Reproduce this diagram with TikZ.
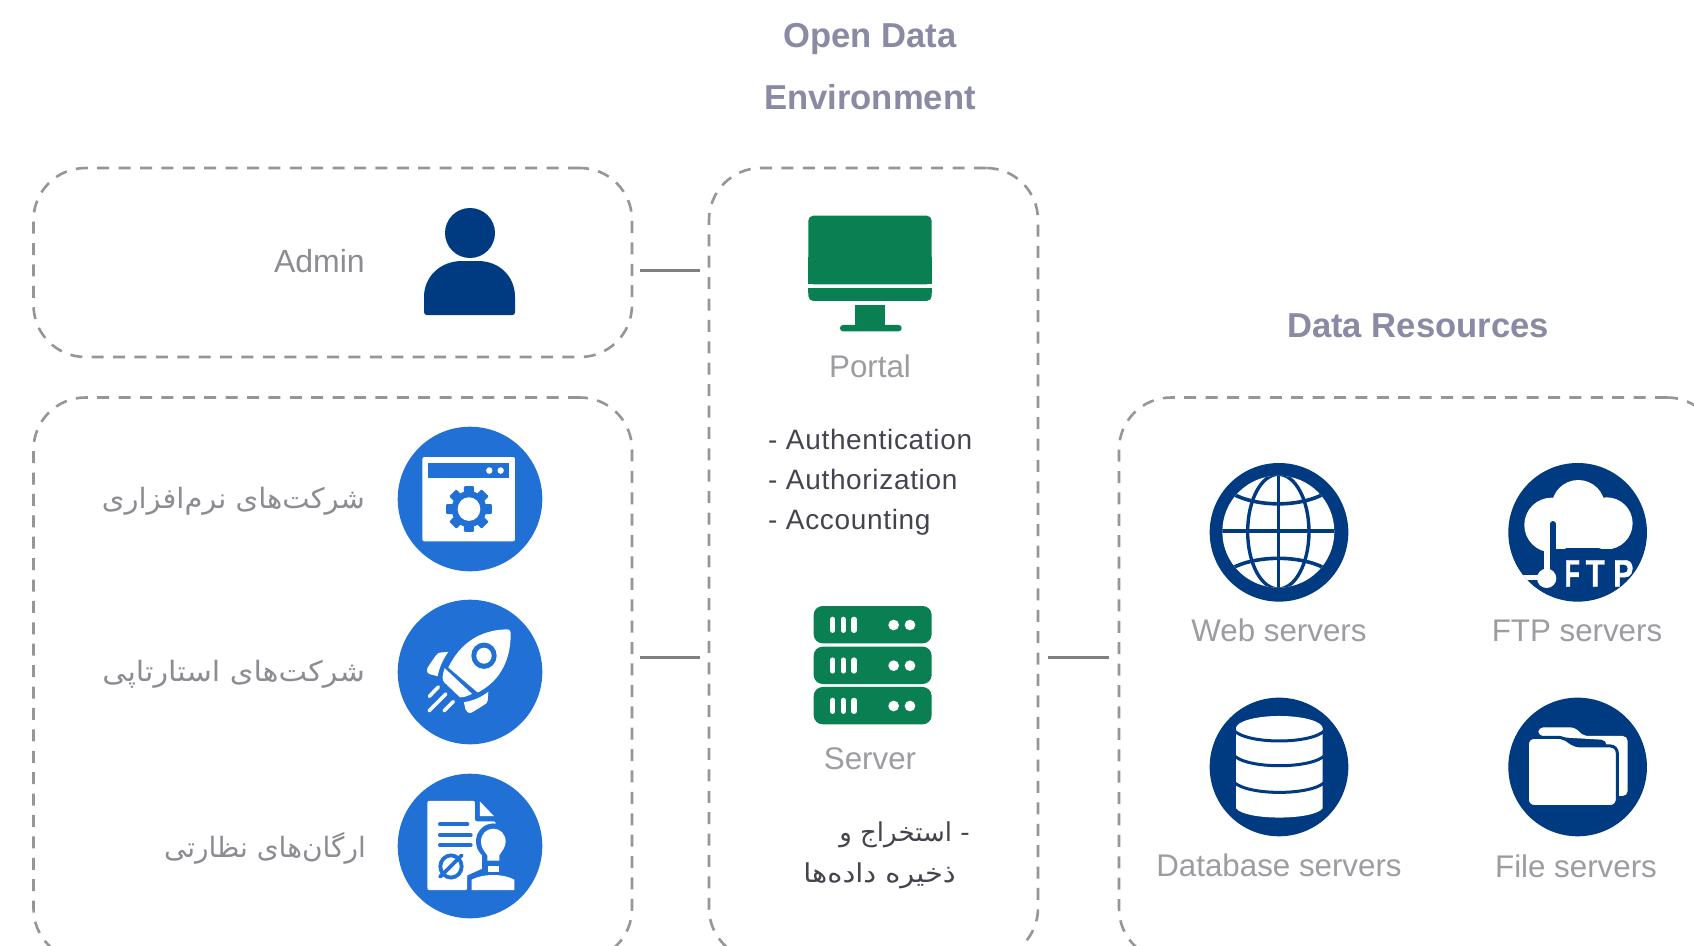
\documentclass[tikz,border=0pt]{standalone}
\usepackage{fontspec}
\setmainfont{Liberation Sans}
\newfontfamily\arabicfont[Script=Arabic]{DejaVu Sans}
\newfontfamily\listfont[LetterSpace=2.4]{Liberation Sans}
\newfontfamily\ftpfont[FakeBold=1.2]{Liberation Sans Bold}
\TeXXeTstate=1
\definecolor{navy}{HTML}{003A80}
\definecolor{bluec}{HTML}{2170D6}
\definecolor{greenc}{HTML}{0A8052}
\definecolor{titlec}{HTML}{8A8AA5}
\definecolor{labelc}{HTML}{9C9CA1}
\definecolor{arlabel}{HTML}{8C8C92}
\definecolor{darkt}{HTML}{44444E}
\definecolor{dashc}{HTML}{969696}
\definecolor{connc}{HTML}{808080}
\tikzset{
  group/.style={draw=dashc,line width=2.6pt,dash pattern=on 12pt off 9.4pt,rounded corners=52pt,inner sep=0pt,fill=none},
  conn/.style={draw=connc,line width=3pt,shorten <=7pt,shorten >=8pt},
  title/.style={font=\bfseries\fontsize{34.6}{40}\selectfont,text=titlec,inner sep=0pt},
  lab/.style={font=\fontsize{31.3}{36}\selectfont,text=labelc,inner sep=0pt},
  arlab/.style={font=\arabicfont\fontsize{28}{34}\selectfont,text=arlabel,inner sep=0pt,anchor=east},
  listt/.style={font=\listfont\fontsize{28}{34}\selectfont,text=darkt,inner sep=0pt,anchor=base west},
  arlist/.style={font=\arabicfont\fontsize{26}{34}\selectfont,text=darkt,inner sep=0pt,anchor=east},
  wl/.style={draw=white,line cap=round},
  zoomed/.style={x=.3333pt,y=-.3333pt},
  zoomedb/.style={x=.3333pt,y=-.347pt},
  ftpl/.style={font=\ftpfont\fontsize{38}{38}\selectfont,text=white,inner sep=0pt},
}
\begin{document}
\begin{tikzpicture}[x=1pt,y=-1pt]
\useasboundingbox (0,0) rectangle (1694,945);
\fill[white] (0,0) rectangle (1694,945);
\clip (0,0) rectangle (1694,945);

% titles
\node[title] (t1) at (870,39) {Open Data};
\node[title] (t2) at (870,97) {Environment};
\node[title] (t3) at (1418,326) {Data Resources};

% groups
\node[group,minimum width=598.5pt,minimum height=189pt] (admin) at (332.75,262.5) {};
\node[group,minimum width=598.5pt,minimum height=563pt] (orgs) at (332.75,679) {};
\node[group,minimum width=329pt,minimum height=792pt] (mid) at (873.5,564) {};
\node[group,minimum width=600pt,minimum height=563pt] (res) at (1419,679) {};

% connectors
\draw[conn] (admin.east |- 0,270) -- (mid.west |- 0,270);
\draw[conn] (orgs.east |- 0,657) -- (mid.west |- 0,657);
\draw[conn,shorten <=9pt,shorten >=9pt] (mid.east |- 0,657) -- (res.west |- 0,657);

% labels left
\node[lab,anchor=east,text=arlabel,font=\fontsize{32}{36}\selectfont] (ladmin) at (365,261) {Admin};
\node[arlab] (l1) at (365,501) {\scalebox{1.034}[1]{\beginR شرکت‌های نرم‌افزاری\endR}};
\node[arlab] (l2) at (365,674) {\scalebox{1.08}[1]{\beginR شرکت‌های استارتاپی\endR}};
\node[arlab] (l3) at (366,848) {\beginR ارگان‌های نظارتی\endR};

% person
\fill[navy] (470,233) circle (25);
\path[fill=navy] (424,312) -- (424,297) .. controls (424,276) and (441,261) .. (462,261) -- (478,261) .. controls (499,261) and (515,276) .. (515,297) -- (515,312) .. controls (515,314) and (514,315) .. (512,315) -- (427,315) .. controls (425,315) and (424,314) .. (424,312) -- cycle;

% left circles
\foreach \cy in {499,672,846} \fill[bluec] (470,\cy) circle (72.3);

% browser icon
\begin{scope}[shift={(380,400.8)},zoomedb]
  \fill[white,rounded corners=2pt] (127,162) rectangle (405,405);
  \fill[bluec] (145,180) rectangle (388,222);
  \fill[white] (328,201) circle (9.5) (362,201) circle (9.5);
  \foreach \a in {0,45,...,315}
    \fill[bluec,rotate around={\a:(267,312)},rounded corners=1pt] (252,246) rectangle (282,290);
  \fill[bluec] (267,312) circle (52);
  \fill[white] (267,312) circle (34);
\end{scope}

% rocket icon
\begin{scope}[shift={(380,400.3)},zoomedb]
  \fill[white] (205,770) .. controls (240,700) and (300,662) .. (380,660) .. controls (390,660) and (392,665) .. (392,675) .. controls (392,760) and (350,815) .. (293,842) -- cycle;
  \fill[bluec] (312,736) circle (38);
  \fill[white] (312,736) circle (23);
  \fill[white] (194,772) -- (276,846) .. controls (262,853) and (250,856) .. (240,856) -- (192,812) .. controls (186,805) and (186,795) .. (194,772) -- cycle;
  \fill[white] (205,725) -- (180,727) .. controls (172,728) and (168,734) .. (143,770) .. controls (138,780) and (142,788) .. (152,790) -- (173,795) .. controls (178,770) and (188,748) .. (205,725) -- cycle;
  \fill[white] (325,840) -- (323,866) .. controls (322,872) and (318,875) .. (312,878) -- (275,900) .. controls (265,903) and (258,897) .. (256,890) -- (252,870) .. controls (280,866) and (305,855) .. (325,840) -- cycle;
  \draw[wl,line width=3.5pt] (148,853) -- (175,826);
  \draw[wl,line width=3.5pt] (147,895) -- (198,846);
  \draw[wl,line width=3.5pt] (192,895) -- (220,868);
\end{scope}

% stamp icon
\begin{scope}[shift={(380,400.8)},zoomedb]
  \fill[white,rounded corners=2pt] (142,1153) -- (285,1153) -- (285,1212) -- (347,1212) -- (347,1330) -- (262,1368) -- (262,1410) -- (142,1410) -- cycle;
  \fill[white] (300,1155) -- (342,1197) -- (300,1197) -- cycle;
  \fill[bluec] (340,1270) circle (52);
  \fill[bluec] (305,1300) rectangle (375,1365);
  \fill[bluec] (262,1368) -- (310,1350) -- (375,1350) -- (375,1412) -- (262,1412) -- cycle;
  \fill[white] (322,1325) -- (322,1310) .. controls (310,1295) and (303,1285) .. (303,1270) .. controls (303,1248) and (320,1233) .. (340,1233) .. controls (360,1233) and (377,1248) .. (377,1270) .. controls (377,1285) and (368,1295) .. (358,1310) -- (358,1325) -- cycle;
  \fill[white] (323,1340) rectangle (357,1358);
  \fill[white] (275,1380) .. controls (310,1362) and (370,1362) .. (403,1380) -- (403,1410) -- (275,1410) -- cycle;
  \draw[bluec,line width=4pt,line cap=round] (180,1220) -- (262,1220) (180,1252) -- (272,1252) (180,1281) -- (272,1281);
  \draw[bluec,line width=3.8pt] (213,1342) circle (32);
  \draw[bluec,line width=3.8pt,line cap=round] (180,1372) -- (245,1310);
\end{scope}

% monitor
\begin{scope}[shift={(760,190)},zoomed]
  \fill[greenc,rounded corners=5pt] (145,77) rectangle (515,283);
  \fill[greenc] (145,200) rectangle (515,283);
  \fill[greenc,rounded corners=5pt] (145,295) rectangle (515,333);
  \fill[greenc] (145,295) rectangle (515,310);
  \fill[greenc] (286,345) rectangle (374,407);
  \fill[greenc,rounded corners=3pt] (240,405) rectangle (425,424);
\end{scope}
\node[lab] (lportal) at (870,366) {Portal};

% auth list
\node[listt] (a1) at (768,449) {- Authentication};
\node[listt] (a2) at (768,489) {- Authorization};
\node[listt] (a3) at (768,529) {- Accounting};

% server
\begin{scope}[shift={(760,590)},zoomed]
  \foreach \ty in {48,170,291} {
    \fill[greenc,rounded corners=9pt] (161,\ty) rectangle (515,\ty+112);
    \foreach \bx in {218,250,282}
      \draw[white,line width=5.2pt,line cap=round] (\bx,\ty+40) -- (\bx,\ty+73);
    \fill[white] (401,\ty+57) circle (16) (450,\ty+57) circle (16);
  }
\end{scope}
\node[lab] (lserver) at (870,759) {Server};

% arabic list
\node[arlist] (s1) at (970,835) {\beginR - استخراج و\endR};
\node[arlist] (s2) at (956,876) {\scalebox{1.11}[1]{\beginR ذخیره داده‌ها\endR}};

% right circles
\begin{scope}[shift={(1190,450)},zoomed]
  \foreach \cx/\cy in {267/247,1163/247,267/951,1163/951} \fill[navy] (\cx,\cy) circle (208);
  % globe
  \fill[white] (265,245) circle (168);
  \begin{scope}
    \clip (265,245) circle (168);
    \draw[navy,line width=3.2pt] (50,243) -- (480,243);
    \draw[navy,line width=3.6pt] (265,60) -- (265,430);
    \draw[navy,line width=3.4pt] (265,245) ellipse (92 and 172);
    \draw[navy,line width=3.6pt] (125,130) .. controls (200,172) and (330,172) .. (405,130);
    \draw[navy,line width=3.6pt] (125,355) .. controls (200,315) and (330,315) .. (405,355);
  \end{scope}
  % cloud
  \begin{scope}
    \clip (1163,247) circle (208);
    \fill[white] (1165,170) circle (80);
    \fill[white] (1085,225) circle (82);
    \fill[white] (1250,220) circle (78);
    \fill[white] (1085,215) rectangle (1260,295);
    \draw[navy,line width=6pt,line cap=round] (1089,222) -- (1089,300);
    \fill[navy] (1080,297) rectangle (1340,330);
    \fill[white] (1062,280) rectangle (1080,370);
    \fill[white] (1070,385) circle (29);
    \fill[white] (1000,374) rectangle (1045,390);
    \node[ftpl] (ftpF) at (1147,370) {\scalebox{.66}[1]{F}};
    \node[ftpl] (ftpT) at (1216,370) {\scalebox{.82}[1]{T}};
    \node[ftpl] (ftpP) at (1300,370) {\scalebox{.8}[1]{P}};
  \end{scope}
  % database
  \fill[white] (138,835) .. controls (138,810) and (398,810) .. (398,835) -- (398,1075) .. controls (370,1112) and (166,1112) .. (138,1075) -- cycle;
  \fill[white] (268,835) ellipse (130 and 37);
  \draw[navy,line width=3pt] (130,840) .. controls (170,884) and (366,884) .. (406,840);
  \draw[navy,line width=3pt] (130,915) .. controls (170,958) and (366,958) .. (406,915);
  \draw[navy,line width=3pt] (130,995) .. controls (170,1038) and (366,1038) .. (406,995);
  % folder
  \fill[white,rounded corners=5pt] (1045,858) -- (1045,832) -- (1155,832) -- (1180,858) -- (1313,858) -- (1313,1038) -- (1250,1038) -- (1250,870) -- cycle;
  \draw[navy,line width=3pt,fill=white,rounded corners=7pt] (1012,862) -- (1125,862) -- (1150,888) -- (1282,888) -- (1282,1070) -- (1012,1070) -- cycle;
\end{scope}

% right labels
\node[lab] (lweb) at (1279,630) {Web servers};
\node[lab] (lftp) at (1577,631) {FTP servers};
\node[lab] (ldb) at (1279,865) {Database servers};
\node[lab] (lfile) at (1576,866) {File servers};
\end{tikzpicture}
\end{document}
